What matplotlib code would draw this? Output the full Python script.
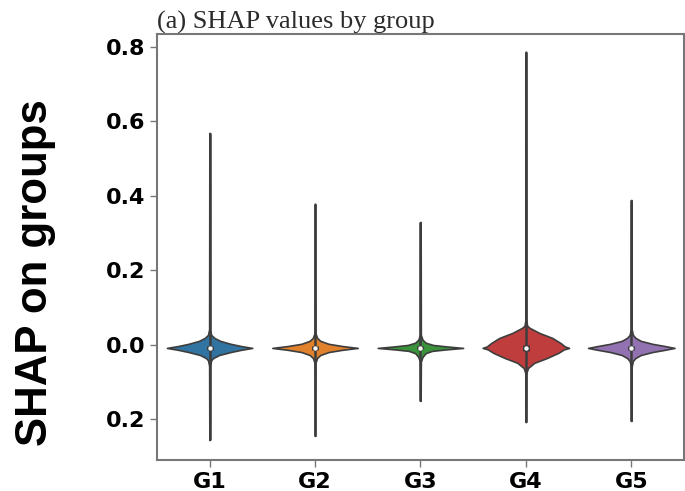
import matplotlib
matplotlib.use("Agg")
import matplotlib.pyplot as plt
import numpy as np

groups = ['G1', 'G2', 'G3', 'G4', 'G5']
colors = ['#3274A1', '#E1812C', '#3A923A', '#C03D3E', '#9372B2']

# extent of each violin (min / max SHAP value)
val_min = [-0.255, -0.244, -0.150, -0.207, -0.204]
val_max = [0.569, 0.379, 0.330, 0.787, 0.389]
medians = [-0.008, -0.008, -0.008, -0.008, -0.008]
q1 = [-0.013, -0.013, -0.012, -0.016, -0.013]
q3 = [-0.003, -0.003, -0.004, 0.000, -0.003]

# density outline: (offset from median, half width)
upper = [
    [(0.0, 0.405), (0.005, 0.30), (0.011, 0.20), (0.019, 0.10), (0.027, 0.045), (0.035, 0.015), (0.050, 0.004)],
    [(0.0, 0.405), (0.005, 0.26), (0.011, 0.13), (0.019, 0.05), (0.027, 0.020), (0.040, 0.004)],
    [(0.0, 0.405), (0.004, 0.25), (0.008, 0.12), (0.014, 0.05), (0.022, 0.020), (0.035, 0.004)],
    [(0.0, 0.410), (0.004, 0.37), (0.013, 0.33), (0.027, 0.25), (0.040, 0.13), (0.054, 0.035),
     (0.060, 0.012), (0.075, 0.004)],
    [(0.0, 0.410), (0.005, 0.32), (0.011, 0.20), (0.019, 0.09), (0.027, 0.040), (0.035, 0.015), (0.050, 0.004)],
]
lower = [
    [(0.0, 0.405), (0.005, 0.30), (0.011, 0.20), (0.019, 0.09), (0.027, 0.035), (0.033, 0.015), (0.048, 0.004)],
    [(0.0, 0.405), (0.005, 0.26), (0.011, 0.13), (0.019, 0.05), (0.027, 0.020), (0.040, 0.004)],
    [(0.0, 0.405), (0.004, 0.24), (0.008, 0.11), (0.014, 0.05), (0.024, 0.020), (0.037, 0.004)],
    [(0.0, 0.410), (0.004, 0.36), (0.013, 0.31), (0.027, 0.20), (0.040, 0.08), (0.054, 0.020), (0.068, 0.004)],
    [(0.0, 0.410), (0.005, 0.32), (0.011, 0.20), (0.019, 0.09), (0.027, 0.040), (0.035, 0.015), (0.050, 0.004)],
]

yticks = [-0.2, 0.0, 0.2, 0.4, 0.6, 0.8]
ytick_labels = ['0.2', '0.0', '0.2', '0.4', '0.6', '0.8']

fig = plt.figure(figsize=(6.85, 4.91), dpi=100)
ax = fig.add_axes([0.229, 0.063, 0.7695, 0.868])

edge = '#3d3d3d'
neck = 0.002
for i, g in enumerate(groups):
    up = upper[i]
    lo = lower[i]
    ys = [val_min[i]]
    ws = [neck]
    for off, w in reversed(lo):
        ys.append(medians[i] - off)
        ws.append(w)
    for off, w in up[1:]:
        ys.append(medians[i] + off)
        ws.append(w)
    ys.append(val_max[i])
    ws.append(neck)
    ys = np.array(ys)
    ws = np.array(ws)
    ax.fill_betweenx(ys, i - ws, i + ws, facecolor=colors[i], edgecolor=edge, linewidth=1.2, zorder=2)
    ax.vlines(i, val_min[i], val_max[i], color=edge, linewidth=1.8, zorder=3)
    ax.vlines(i, q1[i], q3[i], color=edge, linewidth=5, zorder=3)
    ax.scatter([i], [medians[i]], s=10, c='white', zorder=4, linewidths=0)

ax.set_xlim(-0.5, 4.5)
ax.set_ylim(-0.309, 0.835)
ax.set_xticks(range(len(groups)))
ax.set_xticklabels(groups, fontsize=16, fontweight='bold', family='DejaVu Sans')
ax.set_yticks(yticks)
ax.set_yticklabels(ytick_labels, fontsize=16, fontweight='bold', family='DejaVu Sans')
ax.tick_params(colors='#777777', labelcolor='black', length=5, width=1)

for s in ax.spines.values():
    s.set_color('#777777')
    s.set_linewidth(1.5)

ax.set_title('(a) SHAP values by group', loc='left', fontsize=19, family='Liberation Serif',
             color='#2b2b2b', pad=3)

fig.text(36 / 685, 1 - 273 / 491, 'SHAP on groups', rotation=90, ha='center', va='center',
         fontsize=31.5, fontweight='bold', family='Liberation Sans')

fig.savefig('out.png', dpi=100)
